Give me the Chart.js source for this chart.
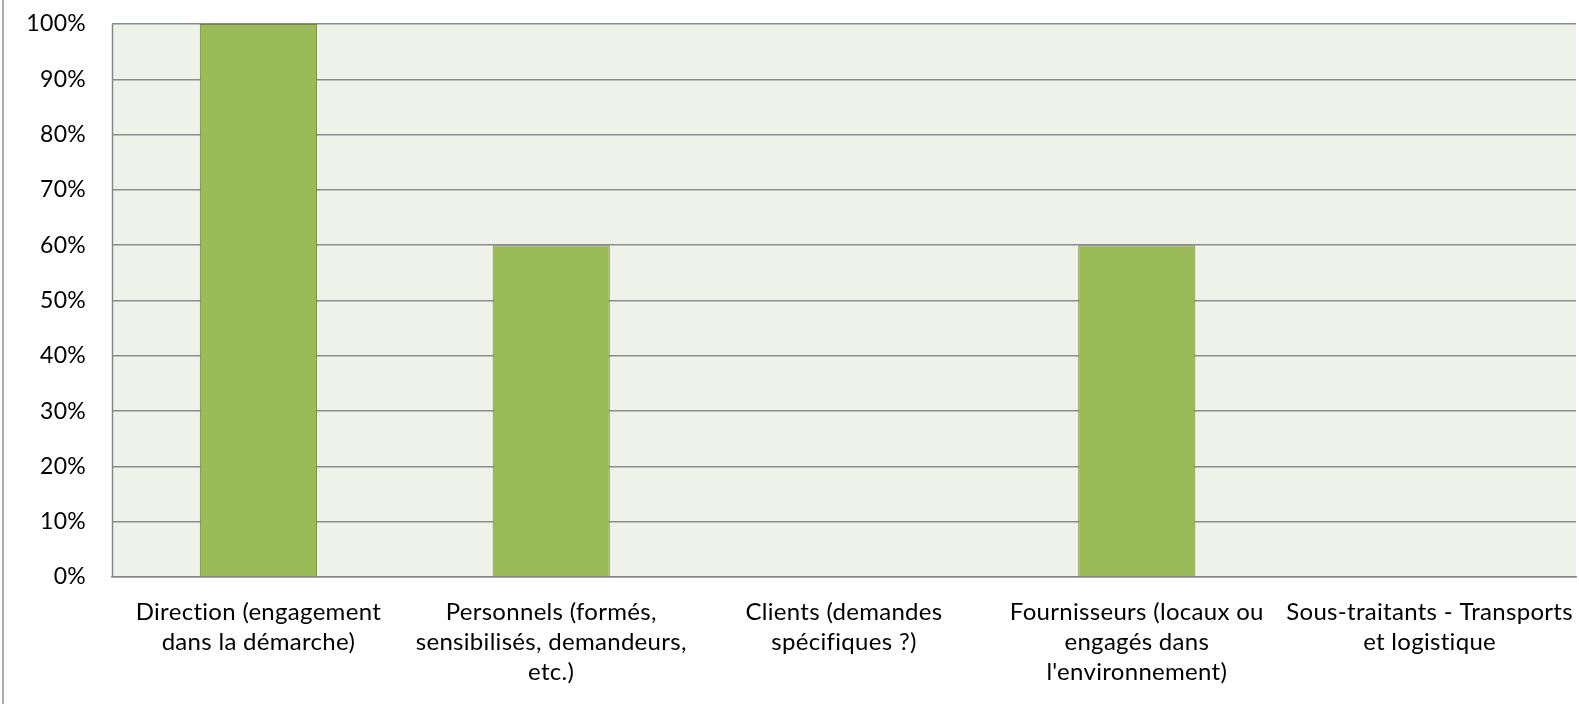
<!DOCTYPE html>
<html>
<head>
<meta charset="utf-8">
<script src="https://cdn.jsdelivr.net/npm/chart.js@4"></script>
<style>
  html, body { margin: 0; padding: 0; background: #fff; }
  #wrap { width: 1579px; height: 704px; position: relative; }
</style>
</head>
<body>
<div id="wrap"><canvas id="chart"></canvas></div>
<script>
const categories = [
  ['Direction (engagement', 'dans la démarche)'],
  ['Personnels (formés,', 'sensibilisés, demandeurs,', 'etc.)'],
  ['Clients (demandes', 'spécifiques ?)'],
  ['Fournisseurs (locaux ou', 'engagés dans', "l'environnement)"],
  ['Sous-traitants - Transports', 'et logistique']
]
const values = [100, 60, 0, 60, 0]
const yTicks = [0, 10, 20, 30, 40, 50, 60, 70, 80, 90, 100]

const plotBg = {
  id: 'plotBg',
  beforeDraw(chart) {
    const { ctx, chartArea: a } = chart
    // small spacing keeps Lato from joining "ti" into a ligature
    ctx.letterSpacing = '0.3px'
    ctx.save()
    ctx.fillStyle = '#eff2e9'
    ctx.fillRect(a.left, a.top, a.right - a.left, a.bottom - a.top)
    ctx.strokeStyle = '#8e8e8e'
    ctx.lineWidth = 1.5
    ctx.beginPath()
    ctx.moveTo(3, 0)
    ctx.lineTo(3, chart.height)
    ctx.stroke()
    ctx.restore()
  },
  afterDraw(chart) {
    const { ctx, chartArea: a } = chart
    ctx.save()
    ctx.strokeStyle = '#868686'
    ctx.lineWidth = 1.5
    ctx.beginPath()
    ctx.moveTo(a.left + 0.5, a.top)
    ctx.lineTo(a.left + 0.5, a.bottom)
    ctx.stroke()
    ctx.restore()
  }
}

new Chart(document.getElementById('chart'), {
  type: 'bar',
  data: {
    labels: categories,
    datasets: [{
      data: values,
      backgroundColor: '#9bbb59',
      borderColor: '#71893f',
      borderWidth: 1,
      barPercentage: 0.4,
      categoryPercentage: 1
    }]
  },
  options: {
    responsive: true,
    maintainAspectRatio: false,
    animation: false,
    layout: { padding: { top: 24, right: 3, left: 0, bottom: 0 } },
    plugins: {
      legend: { display: false },
      tooltip: { enabled: false }
    },
    scales: {
      x: {
        grid: { display: false, drawTicks: false },
        border: { color: '#868686', width: 1.5 },
        ticks: {
          color: '#000',
          padding: 21,
          maxRotation: 0,
          autoSkip: false,
          font: { family: 'Lato', size: 24, lineHeight: 1.23 }
        },
        afterFit(scale) {
          scale.height = 127
          scale.paddingLeft = 0
          scale.paddingRight = 0
        }
      },
      y: {
        min: 0,
        max: 100,
        afterBuildTicks(scale) { scale.ticks = yTicks.map(v => ({ value: v })) },
        grid: { color: '#8c8c8c', lineWidth: 1.5, drawTicks: false },
        border: { display: false },
        ticks: {
          color: '#000',
          padding: 26,
          font: { family: 'Lato', size: 23 },
          callback: v => v + '%'
        },
        afterFit(scale) {
          scale.width = 112
          scale.paddingTop = 0
          scale.paddingBottom = 0
        }
      }
    }
  },
  plugins: [plotBg]
})
</script>
</body>
</html>
